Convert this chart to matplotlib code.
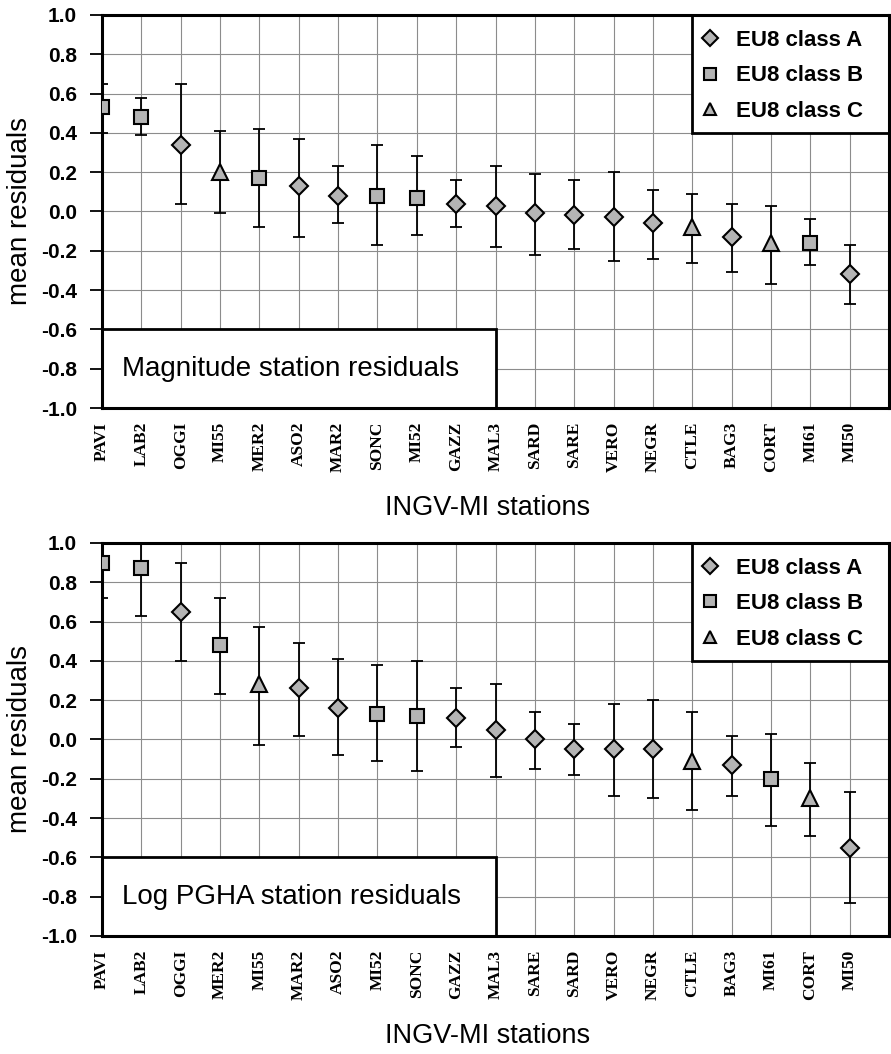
import matplotlib.pyplot as plt
from matplotlib.patches import Rectangle
from matplotlib.lines import Line2D

# top panel: magnitude station residuals
stations_mag = ['PAVI', 'LAB2', 'OGGI', 'MI55', 'MER2', 'ASO2', 'MAR2', 'SONC', 'MI52', 'GAZZ',
                'MAL3', 'SARD', 'SARE', 'VERO', 'NEGR', 'CTLE', 'BAG3', 'CORT', 'MI61', 'MI50']
class_mag = ['B', 'B', 'A', 'C', 'B', 'A', 'A', 'B', 'B', 'A',
             'A', 'A', 'A', 'A', 'A', 'C', 'A', 'C', 'B', 'A']
mean_mag = [0.53, 0.48, 0.34, 0.20, 0.17, 0.13, 0.08, 0.08, 0.07, 0.04,
            0.03, -0.01, -0.02, -0.03, -0.06, -0.08, -0.13, -0.16, -0.16, -0.32]
upper_mag = [0.65, 0.58, 0.65, 0.41, 0.42, 0.37, 0.23, 0.34, 0.28, 0.16,
             0.23, 0.19, 0.16, 0.20, 0.11, 0.09, 0.04, 0.03, -0.04, -0.17]
lower_mag = [0.40, 0.39, 0.04, -0.01, -0.08, -0.13, -0.06, -0.17, -0.12, -0.08,
             -0.18, -0.22, -0.19, -0.25, -0.24, -0.26, -0.31, -0.37, -0.27, -0.47]

# bottom panel: log PGHA station residuals
stations_pgha = ['PAVI', 'LAB2', 'OGGI', 'MER2', 'MI55', 'MAR2', 'ASO2', 'MI52', 'SONC', 'GAZZ',
                 'MAL3', 'SARE', 'SARD', 'VERO', 'NEGR', 'CTLE', 'BAG3', 'MI61', 'CORT', 'MI50']
class_pgha = ['B', 'B', 'A', 'B', 'C', 'A', 'A', 'B', 'B', 'A',
              'A', 'A', 'A', 'A', 'A', 'C', 'A', 'B', 'C', 'A']
mean_pgha = [0.90, 0.87, 0.65, 0.48, 0.28, 0.26, 0.16, 0.13, 0.12, 0.11,
             0.05, 0.00, -0.05, -0.05, -0.05, -0.11, -0.13, -0.20, -0.30, -0.55]
upper_pgha = [1.08, 1.12, 0.90, 0.72, 0.57, 0.49, 0.41, 0.38, 0.40, 0.26,
              0.28, 0.14, 0.08, 0.18, 0.20, 0.14, 0.02, 0.03, -0.12, -0.27]
lower_pgha = [0.72, 0.63, 0.40, 0.23, -0.03, 0.02, -0.08, -0.11, -0.16, -0.04,
              -0.19, -0.15, -0.18, -0.29, -0.30, -0.36, -0.29, -0.44, -0.49, -0.83]

yticks = [-1.0, -0.8, -0.6, -0.4, -0.2, 0.0, 0.2, 0.4, 0.6, 0.8, 1.0]
legend_labels = {'A': 'EU8 class A', 'B': 'EU8 class B', 'C': 'EU8 class C'}
marker_of = {'A': 'D', 'B': 's', 'C': '^'}
size_of = {'A': 9.5, 'B': 10.5, 'C': 11}
fill = '#b4b4b4'
sans = 'Liberation Sans'


def draw_panel(ax, stations, classes, mean, upper, lower, title):
    x = list(range(len(stations)))
    for i in x:
        ax.errorbar(i, mean[i], yerr=[[mean[i] - lower[i]], [upper[i] - mean[i]]],
                    fmt='none', ecolor='black', elinewidth=1.3, capsize=4.5, capthick=1.3, zorder=3)
        ax.plot(i, mean[i], marker=marker_of[classes[i]], markersize=size_of[classes[i]],
                markerfacecolor=fill, markeredgecolor='black', markeredgewidth=1.5,
                linestyle='none', zorder=4)

    ax.set_xlim(0, 20)
    ax.set_ylim(-1.0, 1.0)
    ax.set_axisbelow(True)
    ax.grid(True, color='#8c8c8c', linewidth=0.8)

    ax.set_xticks(x)
    ax.set_xticklabels(stations, rotation=90, fontsize=12.5, fontweight='bold',
                       family='Liberation Serif')
    ax.tick_params(axis='x', length=0, pad=10)
    ax.set_yticks(yticks)
    ax.set_yticklabels([f'{v:.1f}' for v in yticks], fontsize=15, fontweight='bold', family=sans)
    ax.tick_params(axis='y', direction='out', length=9, width=1.3, pad=9)
    for s in ax.spines.values():
        s.set_linewidth(2.2)

    ax.set_ylabel('mean residuals', fontsize=20, family=sans, va='center')
    ax.yaxis.set_label_coords(-0.104, 0.5)
    ax.set_xlabel('INGV-MI stations', fontsize=19.5, family=sans, va='top')
    ax.xaxis.set_label_coords(0.49, -0.222)

    # title box in the lower left corner
    ax.add_patch(Rectangle((0, -1.0), 10, 0.4, facecolor='white', edgecolor='black',
                           linewidth=2.0, zorder=2))
    ax.text(0.5, -0.8, title, fontsize=20, family=sans, va='center', ha='left', zorder=5)

    # legend box in the upper right corner
    ax.add_patch(Rectangle((15, 0.4), 5, 0.6, facecolor='white', edgecolor='black',
                           linewidth=2.0, zorder=2))
    handles = [Line2D([], [], marker=marker_of[c], markersize=size_of[c] * 0.82,
                      markerfacecolor=fill, markeredgecolor='black', markeredgewidth=1.5,
                      linestyle='none') for c in ['A', 'B', 'C']]
    leg = ax.legend(handles, [legend_labels[c] for c in ['A', 'B', 'C']],
                    loc='upper left', bbox_to_anchor=(15, 0.975), bbox_transform=ax.transData,
                    frameon=False, borderaxespad=0, borderpad=0.45, handlelength=0.73,
                    handletextpad=0.77, labelspacing=0.65,
                    prop={'family': sans, 'weight': 'bold', 'size': 16})
    leg.set_zorder(6)


fig = plt.figure(figsize=(8.91, 10.54), dpi=100)
ax1 = fig.add_axes([0.1145, 0.6129, 0.8833, 0.3729])
ax2 = fig.add_axes([0.1145, 0.1120, 0.8833, 0.3729])

draw_panel(ax1, stations_mag, class_mag, mean_mag, upper_mag, lower_mag,
           'Magnitude station residuals')
draw_panel(ax2, stations_pgha, class_pgha, mean_pgha, upper_pgha, lower_pgha,
           'Log PGHA station residuals')

fig.savefig('out.png', dpi=100)
